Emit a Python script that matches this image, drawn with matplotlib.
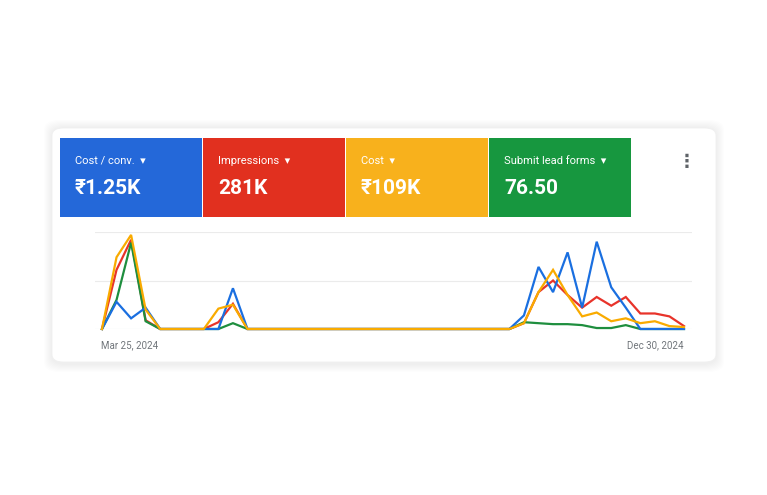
import numpy as np
import matplotlib.pyplot as plt
from matplotlib.patches import FancyBboxPatch, Rectangle

plt.rcParams['font.family'] = ['Roboto', 'DejaVu Sans']

# weekly points, Mar 25 2024 .. Dec 30 2024 (41 weeks), scaled 0-100
zeros = [0] * 41
blue = list(zeros); red = list(zeros); orange = list(zeros); green = list(zeros)
blue[1:4] = [28, 11, 22]
red[1:4] = [61, 92, 9]
orange[1:4] = [74, 97, 20]
green[1:4] = [30, 89, 8]
blue[8:10] = [0, 42]
red[8:10] = [7, 26]
orange[8:10] = [21, 25]
green[8:10] = [0, 6]
blue[29:41] = [14, 64, 38, 79, 22, 90, 43, 22, 0, 0, 0, 0]
red[29:41] = [6, 38, 50, 35, 22, 33, 24, 33, 16, 16, 13, 3]
orange[29:41] = [6, 38, 61, 35, 13, 17, 8, 11, 6, 8, 3, 2]
green[29:41] = [7, 6, 5, 5, 4, 1, 1, 4, 0, 0, 0, 0]

tiles = [("Cost / conv.", "₹1.25K", "#2468d9"),
         ("Impressions", "281K", "#e1301f"),
         ("Cost", "₹109K", "#f8b11c"),
         ("Submit lead forms", "76.50", "#17973f")]

W, H = 767, 495
fig = plt.figure(figsize=(W / 100, H / 100), dpi=100)
fig.patch.set_facecolor('white')

def fx(px): return px / W
def fy(py): return 1 - py / H

# soft card shadow + card
for i in range(8):
    d = 8 - i
    fig.patches.append(FancyBboxPatch((fx(52 - d), fy(364 + d)), fx(664 + 2 * d), (364 - 128 + 2 * d) / H,
                                      boxstyle="round,pad=0,rounding_size=0.02", transform=fig.transFigure,
                                      fc='black', ec='none', alpha=0.008, zorder=0))
fig.patches.append(FancyBboxPatch((fx(52), fy(362)), fx(664), (362 - 128) / H,
                                  boxstyle="round,pad=0,rounding_size=0.015", transform=fig.transFigure,
                                  fc='white', ec='#f0f0f0', lw=0.6, zorder=1))

# metric tiles
for i, (label, value, col) in enumerate(tiles):
    x0 = 60 + i * 143
    fig.patches.append(Rectangle((fx(x0), fy(217)), fx(142), (217 - 138) / H,
                                 transform=fig.transFigure, fc=col, ec='none', zorder=2))
    fig.text(fx(x0 + 15), fy(161), label + "  ▾", color='white', fontsize=8, va='center', zorder=3)
    fig.text(fx(x0 + 15), fy(189), value, color='white', fontsize=15, fontweight='bold', va='center', zorder=3)

fig.text(fx(687), fy(162), "⋮", color='#5f6368', fontsize=13, ha='center', va='center', fontweight='bold')

# chart
ax = fig.add_axes([fx(95), fy(329), fx(692 - 95), (329 - 232) / H], zorder=3)
ax.set_facecolor('none')
x = np.arange(41)
for s, c in [(red, '#e8332a'), (green, '#1e8e3e'), (blue, '#1a6fe0'), (orange, '#f9ab00')]:
    ax.plot(x, s, color=c, lw=1.6, solid_joinstyle='miter', clip_on=False)
ax.set_xlim(-0.48, 40.55)
ax.set_ylim(0, 100)
for v in [50, 100]:
    ax.axhline(v, color='#ebebeb', lw=0.8, zorder=0)
ax.axhline(0, color='#dadce0', lw=0.8, zorder=0)
for sp in ax.spines.values():
    sp.set_visible(False)
ax.set_xticks([])
ax.set_yticks([])
fig.text(fx(101), fy(345), "Mar 25, 2024", color='#70757a', fontsize=7, va='center')
fig.text(fx(684), fy(345), "Dec 30, 2024", color='#70757a', fontsize=7, va='center', ha='right')

fig.savefig('out.png', dpi=100)
